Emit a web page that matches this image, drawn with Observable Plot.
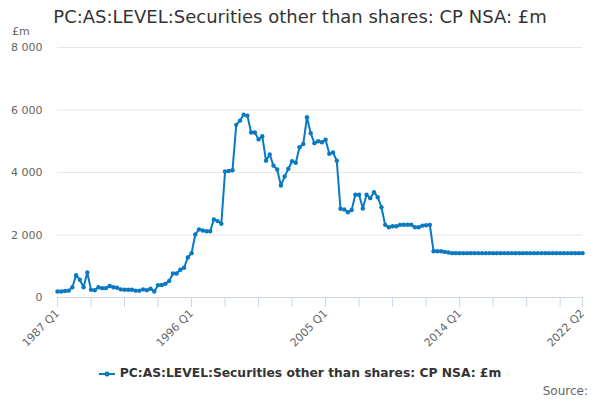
<!DOCTYPE html>
<html>
<head>
<meta charset="utf-8">
<script src="https://cdn.jsdelivr.net/npm/d3@7"></script>
<script src="https://cdn.jsdelivr.net/npm/@observablehq/plot@0.6"></script>
<style>
  body { margin: 0; background: #fff; }
  #wrap { position: relative; width: 600px; height: 400px; font-family: "DejaVu Sans", sans-serif; overflow: hidden; }
  #title { position: absolute; left: 0; top: 6px; width: 600px; text-align: center; font-size: 18px; color: #333; white-space: nowrap; }
  #unit { position: absolute; left: 12px; top: 25px; font-size: 11px; color: #666; }
  #chart { position: absolute; left: 0; top: 36px; }
  #legend { position: absolute; left: 0; top: 366px; width: 600px; text-align: center; font-size: 12.3px; font-weight: bold; color: #333; white-space: nowrap; }
  #legend svg { vertical-align: middle; margin-right: 5px; }
  #source { position: absolute; right: 12px; top: 384px; font-size: 12px; color: #666; }
</style>
</head>
<body>
<div id="wrap">
  <div id="title"></div>
  <div id="unit"></div>
  <div id="chart"></div>
  <div id="legend"></div>
  <div id="source"></div>
</div>
<script>
const titleText = "PC:AS:LEVEL:Securities other than shares: CP NSA: £m";
const seriesName = "PC:AS:LEVEL:Securities other than shares: CP NSA: £m";
const unitLabel = "£m";
const sourceText = "Source:";
const startYear = 1987;
const nQuarters = 142; // 1987 Q1 .. 2022 Q2
const quarters = Array.from({length: nQuarters}, (_, i) => `${startYear + Math.floor(i / 4)} Q${(i % 4) + 1}`);
const values = [
  190, 190, 210, 220, 330, 715, 570, 330, 800, 245,
  230, 330, 300, 300, 370, 330, 310, 260, 250, 250,
  250, 220, 220, 260, 230, 280, 190, 395, 400, 440,
  530, 770, 770, 890, 950, 1280, 1420, 2015, 2180, 2145,
  2120, 2120, 2500, 2445, 2360, 4030, 4050, 4070, 5525, 5660,
  5850, 5820, 5280, 5280, 5060, 5160, 4380, 4575, 4220, 4095,
  3585, 3870, 4120, 4360, 4310, 4810, 4910, 5770, 5260, 4940,
  5000, 4970, 5050, 4600, 4640, 4380, 2840, 2820, 2730, 2800,
  3290, 3290, 2850, 3290, 3180, 3370, 3210, 2890, 2325, 2250,
  2280, 2280, 2325, 2330, 2330, 2330, 2250, 2250, 2300, 2310,
  2325, 1480, 1480, 1480, 1460, 1440, 1420, 1420, 1420, 1420,
  1420, 1420, 1420, 1420, 1420, 1420, 1420, 1420, 1420, 1420,
  1420, 1420, 1420, 1420, 1420, 1420, 1420, 1420, 1420, 1420,
  1420, 1420, 1420, 1420, 1420, 1420, 1420, 1420, 1420, 1420,
  1420, 1420
];
const yTicks = [0, 2000, 4000, 6000, 8000];
const xTickLabels = ["1987 Q1", "1996 Q1", "2005 Q1", "2014 Q1", "2022 Q2"];
const xTickMarks = quarters.filter((q, i) => i % 9 === 0).concat([quarters[nQuarters - 1]]);

const color = "#0a79c3";
const data = quarters.map((q, i) => ({q, v: values[i]}));
const fmt = d => d3.format(",")(d).replace(/,/g, " ");
const labelSet = new Set(xTickLabels);

const plot = Plot.plot({
  width: 600,
  height: 312,
  marginLeft: 57,
  marginRight: 18,
  marginTop: 11,
  marginBottom: 51,
  style: {fontFamily: "DejaVu Sans, sans-serif", fontSize: "11px", color: "#666", background: "transparent"},
  x: {type: "point", domain: quarters, padding: 0},
  y: {domain: [0, 8000]},
  marks: [
    Plot.gridY(yTicks, {stroke: "#e6e6e6", strokeOpacity: 1}),
    Plot.axisY(yTicks, {tickSize: 0, tickPadding: 15, tickFormat: fmt, label: null, fill: "#666"}),
    Plot.ruleY([0], {stroke: "#ccd6eb", strokeWidth: 1}),
    Plot.axisX(xTickMarks, {tickSize: 10, stroke: "#ccd6eb", strokeOpacity: 1, tickRotate: -45, tickPadding: 4,
      tickFormat: d => labelSet.has(d) ? d : "", label: null, fill: "#666"}),
    Plot.lineY(data, {x: "q", y: "v", stroke: color, strokeWidth: 2}),
    Plot.dot(data, {x: "q", y: "v", r: 2.2, fill: color, stroke: "none"})
  ]
});
document.getElementById("chart").appendChild(plot);
document.getElementById("title").textContent = titleText;
document.getElementById("unit").textContent = unitLabel;
document.getElementById("source").textContent = sourceText;
const legend = document.getElementById("legend");
legend.innerHTML = `<svg width="16" height="10"><line x1="0" x2="16" y1="5" y2="5" stroke="${color}" stroke-width="2"/><circle cx="8" cy="5" r="2.5" fill="${color}"/></svg>`;
legend.appendChild(document.createTextNode(seriesName));
</script>
</body>
</html>
